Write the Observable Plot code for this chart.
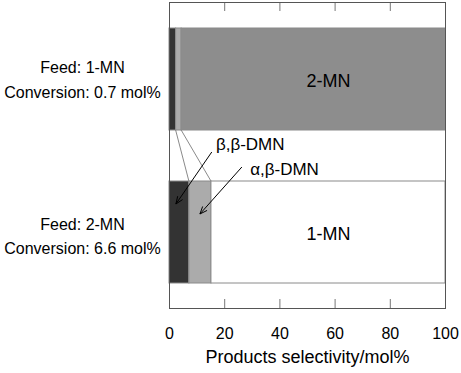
<!DOCTYPE html>
<html><head><meta charset="utf-8">
<script src="https://cdn.jsdelivr.net/npm/d3@7"></script>
<script src="https://cdn.jsdelivr.net/npm/@observablehq/plot@0.6"></script>
<style>body{margin:0;background:#fff}</style>
</head><body><div id="chart"></div>
<script>
// ---- data ----
const feeds = ["1-MN", "2-MN"];
const conversions = [0.7, 6.6];
const productsFeed1 = ["β,β-DMN", "α,β-DMN", "2-MN"];
const selectivityFeed1 = [2.4, 2.0, 95.6];
const productsFeed2 = ["β,β-DMN", "α,β-DMN", "1-MN"];
const selectivityFeed2 = [7.2, 8.0, 84.8];
const xTicks = [0, 20, 40, 60, 80, 100];
const xLabel = "Products selectivity/mol%";

// ---- build table ----
const productLists = [productsFeed1, productsFeed2];
const valueLists = [selectivityFeed1, selectivityFeed2];
const rows = [];
feeds.forEach((f, i) => {
  let acc = 0;
  productLists[i].forEach((p, j) => {
    const v = valueLists[i][j];
    rows.push({feed: f, product: p, value: v, start: acc, end: acc + v});
    acc += v;
  });
});
const mainRows = rows.filter(r => !r.product.includes("DMN"));
const feedText = (d, i) => `Feed: ${d}\nConversion: ${conversions[feeds.indexOf(d)]} mol%`;

const FONT = "'Liberation Sans', Arial, Helvetica, sans-serif";
const colorDomain = ["β,β-DMN", "α,β-DMN", "2-MN", "1-MN"];
const colorRange = ["#333333", "#ababab", "#8d8d8d", "#ffffff"];

const plot = Plot.plot({
  width: 461,
  height: 373,
  marginLeft: 169,
  marginRight: 16,
  marginTop: 2,
  marginBottom: 65,
  style: {fontFamily: FONT, fontSize: "16px", color: "#000", background: "#fff"},
  x: {domain: [0, 100], axis: null},
  y: {type: "band", domain: feeds, paddingInner: 1/3, paddingOuter: 1/6, axis: null},
  color: {domain: colorDomain, range: colorRange},
  marks: [
    Plot.barX(rows, Plot.stackX({x: "value", y: "feed", fill: "product", stroke: "#8a8a8a", strokeWidth: 1, order: null})),
    Plot.text(mainRows.slice(0, 1), {x: d => (d.start + d.end) / 2, y: "feed", text: "product", dx: 15, dy: 2, fontSize: 18}),
    Plot.text(mainRows.slice(1, 2), {x: d => (d.start + d.end) / 2, y: "feed", text: "product", dx: 0, dy: 2, fontSize: 18}),
    Plot.text(feeds.slice(0, 1), {
      y: d => d, text: feedText,
      frameAnchor: "left", dx: -87, dy: -2, textAnchor: "middle", lineHeight: 1.56, fontSize: 16
    }),
    Plot.text(feeds.slice(1, 2), {
      y: d => d, text: feedText,
      frameAnchor: "left", dx: -87, dy: 2, textAnchor: "middle", lineHeight: 1.5, fontSize: 16
    }),
    Plot.tickX(xTicks.slice(1, -1), {x: d => d, stroke: "#777", insetBottom: 297}),
    Plot.tickX(xTicks.slice(1, -1), {x: d => d, stroke: "#777", insetTop: 297}),
    Plot.frame({stroke: "#555", strokeWidth: 1}),
    Plot.axisX({anchor: "bottom", ticks: xTicks, tickSize: 0, tickPadding: 19, label: null, fontSize: 16}),
    Plot.text([xLabel], {text: d => d, frameAnchor: "bottom", dy: 54, fontSize: 18})
  ]
});
document.getElementById("chart").appendChild(plot);

// ---- overlay: connectors and arrows, placed through Plot's own scales ----
const sx = plot.scale("x"), sy = plot.scale("y");
const bw = sy.bandwidth;
const top1 = sy.apply(feeds[0]), bottom1 = top1 + bw;
const top2 = sy.apply(feeds[1]);
const svg = d3.select(plot);
const g = svg.append("g");

const ends1 = rows.filter(r => r.feed === feeds[0]).map(r => r.end).slice(0, 2);
const ends2 = rows.filter(r => r.feed === feeds[1]).map(r => r.end).slice(0, 2);
ends1.forEach((e, k) => {
  g.append("line")
    .attr("x1", sx.apply(e)).attr("y1", bottom1)
    .attr("x2", sx.apply(ends2[k])).attr("y2", top2)
    .attr("stroke", "#8a8a8a").attr("stroke-width", 1);
});

const annotations = [
  {text: "β,β-DMN", lx: 17.0, ly: -36.5, tail: [15.5, -29], head: [2.5, 23]},
  {text: "α,β-DMN", lx: 29.4, ly: -12, tail: [26.4, -14], head: [11.2, 33]}
];
annotations.forEach(a => {
  const x1 = sx.apply(a.tail[0]), y1 = top2 + a.tail[1];
  const x2 = sx.apply(a.head[0]), y2 = top2 + a.head[1];
  g.append("line").attr("x1", x1).attr("y1", y1).attr("x2", x2).attr("y2", y2)
    .attr("stroke", "#000").attr("stroke-width", 1);
  const ang = Math.atan2(y1 - y2, x1 - x2), L = 8, s = 0.38;
  const p1 = [x2 + L * Math.cos(ang + s), y2 + L * Math.sin(ang + s)];
  const p2 = [x2 + L * Math.cos(ang - s), y2 + L * Math.sin(ang - s)];
  g.append("path").attr("d", `M${p1}L${x2},${y2}L${p2}`)
    .attr("fill", "none").attr("stroke", "#000").attr("stroke-width", 1);
  g.append("text").attr("x", sx.apply(a.lx)).attr("y", top2 + a.ly)
    .attr("dy", "0.35em").attr("font-size", 17).attr("font-family", FONT)
    .attr("text-anchor", "start").attr("fill", "#000").text(a.text);
});
</script>
</body></html>
